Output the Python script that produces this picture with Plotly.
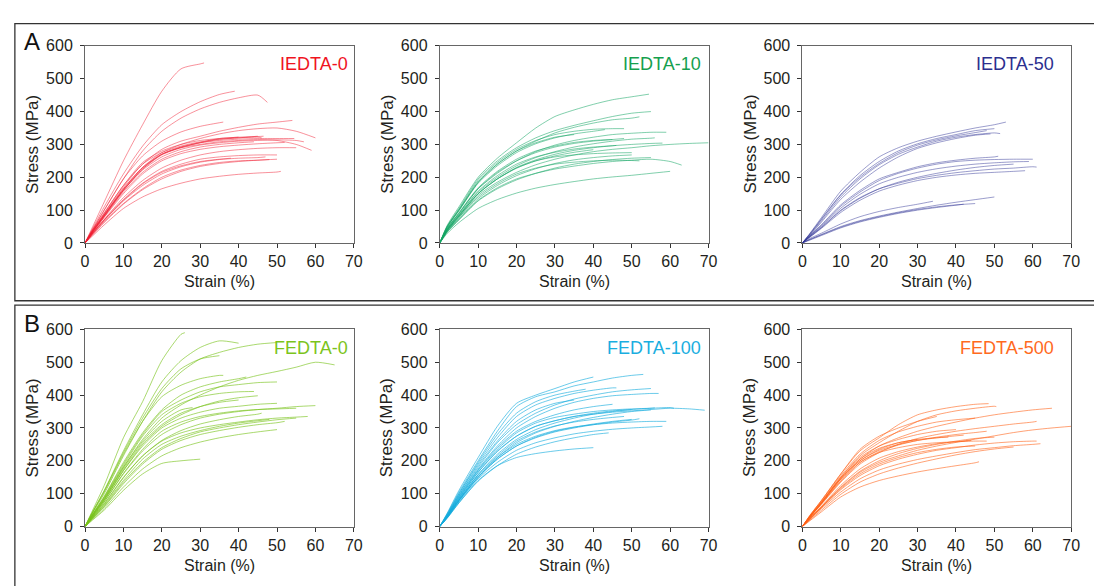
import plotly.graph_objects as go

# ---------------- data ----------------
STRAIN_GRID = [0, 2, 5, 10, 15, 20, 25, 30, 35, 40, 45, 50, 55, 60, 65, 70]
X_TICKS = [0, 10, 20, 30, 40, 50, 60, 70]
Y_TICKS = [0, 100, 200, 300, 400, 500, 600]
PANEL_NAMES = ["IEDTA-0", "IEDTA-10", "IEDTA-50", "FEDTA-0", "FEDTA-100", "FEDTA-500"]

# each curve: stress (MPa) at STRAIN_GRID points below its end strain, then stress at end strain
IEDTA_0_END = [31, 39, 47.5, 36, 54, 60, 59, 57, 54.5, 46.5, 46, 55, 50, 47, 51, 48, 45, 40, 52, 44, 38, 50]
IEDTA_0_STRESS = [
    [0, 50, 125, 250, 360, 462, 530, 545, 548],
    [0, 45, 110, 210, 295, 360, 400, 430, 452, 462],
    [0, 40, 100, 195, 280, 340, 380, 408, 428, 442, 450, 428],
    [0, 42, 100, 195, 265, 310, 338, 355, 366, 368],
    [0, 38, 90, 175, 240, 285, 310, 325, 340, 352, 362, 368, 373],
    [0, 35, 85, 165, 230, 275, 300, 318, 332, 342, 348, 350, 340, 320],
    [0, 33, 80, 160, 225, 270, 290, 300, 308, 312, 315, 312, 300, 282],
    [0, 35, 82, 160, 222, 262, 285, 298, 305, 310, 312, 314, 312, 308],
    [0, 36, 84, 165, 230, 270, 292, 305, 312, 316, 318, 318, 318],
    [0, 40, 92, 175, 245, 280, 300, 312, 318, 322, 324, 325],
    [0, 38, 88, 170, 240, 275, 295, 308, 316, 320, 322, 320],
    [0, 30, 72, 138, 190, 228, 252, 268, 278, 284, 288, 290, 290],
    [0, 30, 70, 132, 182, 218, 240, 255, 262, 266, 268, 268],
    [0, 28, 68, 128, 175, 210, 232, 246, 254, 258, 260, 262],
    [0, 22, 55, 105, 140, 165, 182, 195, 203, 209, 213, 216, 218],
    [0, 27, 65, 120, 165, 200, 222, 236, 245, 250, 252, 254],
    [0, 35, 85, 160, 225, 268, 290, 305, 315, 320, 325],
    [0, 36, 85, 162, 228, 270, 292, 306, 318, 322],
    [0, 32, 78, 150, 210, 250, 272, 285, 293, 298, 302, 305, 306],
    [0, 33, 80, 155, 215, 255, 278, 292, 300, 305, 308],
    [0, 30, 70, 130, 180, 215, 235, 248, 255, 258],
    [0, 25, 62, 118, 162, 195, 218, 233, 242, 248, 252, 255],
]

IEDTA_10_END = [54.5, 55, 52, 48, 59, 56, 70, 63, 60, 52, 50, 46, 45, 40, 50, 55, 48, 43, 35, 58]
IEDTA_10_STRESS = [
    [0, 55, 110, 200, 258, 305, 350, 385, 405, 422, 436, 445, 453],
    [0, 52, 105, 195, 250, 290, 320, 342, 358, 372, 385, 395, 400],
    [0, 50, 100, 185, 240, 280, 310, 335, 352, 365, 375, 380, 384],
    [0, 52, 102, 190, 245, 285, 312, 330, 340, 346, 348, 348],
    [0, 45, 90, 165, 212, 250, 278, 298, 312, 322, 330, 334, 337, 337],
    [0, 42, 85, 155, 200, 235, 260, 278, 292, 302, 310, 316, 319, 320],
    [0, 38, 78, 145, 185, 215, 238, 255, 268, 278, 285, 290, 296, 300, 303, 305],
    [0, 35, 72, 130, 168, 195, 212, 225, 234, 242, 248, 252, 255, 248, 237],
    [0, 30, 62, 105, 132, 152, 167, 178, 187, 195, 201, 206, 212, 218],
    [0, 38, 78, 140, 180, 210, 228, 240, 246, 250, 252, 251, 250],
    [0, 40, 82, 150, 195, 228, 250, 262, 268, 272, 274, 275],
    [0, 42, 86, 158, 205, 240, 262, 276, 286, 292, 296, 297],
    [0, 45, 92, 168, 218, 255, 280, 295, 306, 312, 315],
    [0, 40, 82, 150, 195, 228, 250, 265, 276, 284],
    [0, 36, 74, 135, 175, 205, 226, 242, 253, 260, 265, 268],
    [0, 34, 70, 128, 165, 192, 212, 228, 240, 248, 254, 258, 260],
    [0, 44, 90, 165, 215, 250, 275, 292, 303, 310, 315, 318],
    [0, 48, 98, 182, 235, 275, 302, 320, 332, 340, 345],
    [0, 50, 100, 185, 240, 280, 305, 322, 330],
    [0, 40, 82, 150, 195, 230, 253, 270, 282, 290, 296, 300, 303, 304],
]

IEDTA_50_END = [53, 50, 51.5, 48, 49, 60, 61, 51, 59, 58, 55, 50, 34, 45, 42]
IEDTA_50_STRESS = [
    [0, 30, 78, 158, 215, 262, 290, 310, 325, 338, 350, 360, 368],
    [0, 28, 74, 148, 205, 248, 280, 302, 318, 330, 342, 348],
    [0, 26, 68, 140, 195, 238, 270, 292, 310, 322, 330, 335, 333],
    [0, 28, 72, 146, 200, 242, 275, 298, 314, 326, 336, 342],
    [0, 24, 64, 133, 185, 228, 262, 288, 305, 318, 328, 332],
    [0, 22, 54, 112, 155, 190, 212, 228, 240, 248, 252, 254, 255, 255],
    [0, 20, 48, 100, 138, 165, 182, 196, 206, 214, 220, 225, 228, 232, 231],
    [0, 23, 56, 116, 160, 195, 215, 232, 244, 252, 258, 262, 264],
    [0, 21, 51, 106, 148, 180, 200, 215, 226, 234, 240, 244, 247, 248],
    [0, 18, 45, 93, 130, 158, 176, 190, 200, 207, 212, 215, 218, 220],
    [0, 19, 47, 98, 136, 165, 185, 200, 212, 222, 230, 236, 240],
    [0, 11, 26, 50, 68, 82, 94, 105, 115, 124, 132, 140],
    [0, 14, 30, 58, 80, 96, 108, 118, 127],
    [0, 11, 25, 48, 66, 80, 92, 102, 110, 116, 120],
    [0, 9, 23, 46, 64, 78, 90, 100, 108, 115, 118],
]

FEDTA_0_END = [26, 40, 50, 65, 50, 44, 36, 60, 58, 50, 55, 50, 30, 45, 40, 48, 52, 42, 46, 35, 28, 55]
FEDTA_0_STRESS = [
    [0, 50, 125, 270, 380, 505, 585, 590],
    [0, 45, 110, 230, 340, 440, 505, 545, 565, 558],
    [0, 42, 100, 215, 320, 410, 470, 510, 530, 545, 555, 560],
    [0, 35, 85, 180, 265, 330, 370, 400, 425, 445, 460, 472, 485, 500, 492],
    [0, 38, 90, 190, 280, 350, 385, 410, 425, 432, 438, 440],
    [0, 36, 88, 185, 275, 340, 375, 395, 405, 410, 411],
    [0, 44, 105, 220, 320, 395, 430, 450, 460, 460],
    [0, 30, 75, 160, 230, 280, 310, 330, 342, 350, 356, 360, 365, 368],
    [0, 28, 70, 150, 215, 260, 285, 300, 310, 318, 325, 330, 333, 335],
    [0, 32, 80, 170, 245, 300, 330, 348, 360, 366, 372, 375],
    [0, 30, 75, 162, 235, 290, 318, 335, 345, 352, 356, 358, 360],
    [0, 22, 55, 120, 175, 215, 240, 257, 270, 280, 288, 295],
    [0, 20, 50, 110, 160, 192, 200, 205],
    [0, 32, 80, 170, 250, 305, 340, 365, 382, 392, 398],
    [0, 34, 82, 175, 255, 310, 345, 365, 378, 385],
    [0, 26, 65, 140, 205, 250, 275, 292, 305, 315, 322, 326],
    [0, 25, 60, 130, 190, 235, 262, 280, 292, 302, 310, 316, 320],
    [0, 38, 92, 195, 285, 355, 400, 425, 440, 450, 455],
    [0, 28, 68, 148, 215, 262, 292, 312, 325, 335, 342, 345],
    [0, 44, 108, 225, 330, 420, 480, 510, 520],
    [0, 35, 85, 180, 260, 320, 355, 362],
    [0, 26, 62, 135, 195, 240, 268, 288, 300, 310, 318, 325, 330],
]

FEDTA_100_END = [53, 40, 46, 55, 57, 69, 61, 59, 58, 40, 50, 45, 52, 48, 35, 55, 44, 50, 38, 56]
FEDTA_100_STRESS = [
    [0, 40, 105, 200, 290, 365, 395, 410, 428, 440, 452, 460, 463],
    [0, 42, 110, 210, 305, 375, 400, 420, 440, 455],
    [0, 38, 100, 190, 270, 335, 370, 390, 405, 415, 422, 422],
    [0, 35, 95, 180, 255, 310, 345, 370, 388, 400, 410, 416, 420],
    [0, 34, 92, 175, 245, 300, 335, 360, 378, 390, 398, 402, 405, 405],
    [0, 32, 85, 165, 230, 275, 305, 322, 335, 342, 348, 352, 356, 360, 358, 354],
    [0, 33, 88, 170, 235, 285, 315, 332, 342, 350, 355, 358, 360, 362, 360],
    [0, 30, 80, 155, 210, 250, 275, 292, 303, 310, 315, 318, 320, 320],
    [0, 28, 75, 145, 195, 232, 255, 270, 282, 290, 296, 300, 303, 305],
    [0, 26, 72, 140, 185, 210, 222, 230, 236, 240],
    [0, 32, 86, 165, 228, 275, 305, 322, 335, 345, 352, 356],
    [0, 34, 90, 172, 240, 290, 320, 340, 355, 365, 372],
    [0, 28, 78, 150, 205, 245, 270, 288, 300, 310, 318, 324, 328],
    [0, 30, 82, 158, 215, 260, 288, 306, 318, 326, 332, 335],
    [0, 36, 95, 185, 260, 320, 355, 375, 385],
    [0, 30, 80, 150, 210, 255, 285, 305, 320, 332, 342, 350, 355],
    [0, 27, 72, 138, 185, 220, 242, 258, 270, 280, 285],
    [0, 29, 78, 150, 205, 245, 272, 290, 302, 312, 320, 326],
    [0, 38, 100, 195, 280, 345, 380, 400, 412, 418],
    [0, 31, 82, 158, 220, 265, 295, 315, 330, 342, 350, 356, 360, 361],
]

FEDTA_500_END = [48.5, 50.5, 65, 61, 70, 48, 62, 61, 46, 45, 40, 42, 48, 35, 44, 50, 38, 55, 45, 30]
FEDTA_500_STRESS = [
    [0, 35, 80, 160, 230, 270, 310, 340, 355, 365, 372, 374],
    [0, 32, 75, 150, 215, 255, 290, 320, 340, 352, 360, 366, 365],
    [0, 30, 72, 145, 205, 245, 270, 290, 305, 318, 330, 340, 348, 355, 360],
    [0, 28, 68, 135, 190, 225, 250, 268, 280, 290, 298, 305, 312, 318, 320],
    [0, 25, 60, 118, 165, 195, 215, 232, 245, 256, 266, 276, 286, 294, 300, 305],
    [0, 30, 70, 138, 195, 225, 240, 250, 255, 258, 260, 260],
    [0, 22, 55, 105, 145, 172, 190, 204, 215, 225, 234, 240, 246, 250, 252],
    [0, 24, 58, 112, 155, 185, 205, 220, 232, 240, 248, 254, 258, 260, 260],
    [0, 18, 45, 90, 120, 140, 154, 166, 176, 185, 194, 197],
    [0, 33, 78, 155, 220, 262, 288, 305, 318, 325, 330],
    [0, 32, 75, 150, 210, 245, 265, 280, 290, 295],
    [0, 30, 72, 145, 200, 232, 250, 262, 270, 276, 278],
    [0, 29, 70, 140, 195, 228, 248, 262, 272, 280, 286, 290],
    [0, 34, 80, 160, 235, 275, 300, 320, 335],
    [0, 26, 62, 125, 175, 208, 228, 242, 252, 258, 262],
    [0, 25, 60, 120, 168, 200, 222, 238, 250, 260, 268, 272],
    [0, 31, 74, 148, 205, 238, 255, 265, 270, 272],
    [0, 20, 50, 98, 135, 160, 178, 193, 206, 218, 228, 236, 242],
    [0, 24, 58, 115, 160, 190, 210, 225, 235, 242, 245],
    [0, 30, 72, 145, 200, 235, 255, 265],
]

PANEL_ENDS = [IEDTA_0_END, IEDTA_10_END, IEDTA_50_END, FEDTA_0_END, FEDTA_100_END, FEDTA_500_END]
PANEL_STRESS = [IEDTA_0_STRESS, IEDTA_10_STRESS, IEDTA_50_STRESS, FEDTA_0_STRESS, FEDTA_100_STRESS, FEDTA_500_STRESS]

# ---------------- styling ----------------
LABEL_COLORS = ["#f0141e", "#15a04e", "#2b2f8f", "#7cc41c", "#1aaee0", "#ff6a1e"]
LINE_COLORS = ["rgba(240,30,50,0.55)", "rgba(20,165,100,0.6)", "rgba(50,55,150,0.55)",
               "rgba(120,195,25,0.7)", "rgba(20,172,222,0.7)", "rgba(255,95,20,0.65)"]
FONT = "Liberation Sans, Arial, sans-serif"
W, H = 1094, 586

# pixel geometry of plot areas
X_PIX = [(82, 354), (441, 713), (808, 1080)]
Y_PIX = [(39, 242), (331, 534)]


def px(x):
    return x / W


def py(y):
    return 1 - y / H


fig = go.Figure()
annotations = []
layout_axes = {}

for i in range(6):
    col, row = i % 3, i // 3
    n = i + 1
    xa = "x" if n == 1 else f"x{n}"
    ya = "y" if n == 1 else f"y{n}"
    for end, ys in zip(PANEL_ENDS[i], PANEL_STRESS[i]):
        xs = [g for g in STRAIN_GRID if g < end] + [end]
        m = min(len(xs), len(ys))
        fig.add_trace(go.Scatter(
            x=xs[:m], y=ys[:m], mode="lines", xaxis=xa, yaxis=ya,
            line=dict(color=LINE_COLORS[i], width=0.9, shape="spline", smoothing=0.7),
            showlegend=False, hoverinfo="skip"))

    x0, x1 = X_PIX[col]
    y0, y1 = Y_PIX[row]
    axcommon = dict(showgrid=False, zeroline=False, showline=True, linecolor="#666",
                    linewidth=1, mirror=True, ticks="outside", ticklen=4, tickwidth=1,
                    tickcolor="#333", tickfont=dict(family=FONT, size=16, color="#231f20"))
    layout_axes["xaxis" if n == 1 else f"xaxis{n}"] = dict(
        domain=[px(x0), px(x1)], anchor=ya, range=[0, 70],
        tickvals=X_TICKS, ticktext=[str(v) for v in X_TICKS], **axcommon)
    layout_axes["yaxis" if n == 1 else f"yaxis{n}"] = dict(
        domain=[py(y1), py(y0)], anchor=xa, range=[0, 600], ticklabelstandoff=4,
        tickvals=Y_TICKS, ticktext=[str(v) for v in Y_TICKS], **axcommon)

    # axis titles
    annotations.append(dict(text="Strain (%)", x=px((x0 + x1) / 2), y=py(y1 + 40),
                            xref="paper", yref="paper", showarrow=False,
                            xanchor="center", yanchor="middle",
                            font=dict(family=FONT, size=16, color="#231f20")))
    annotations.append(dict(text="Stress (MPa)", x=px(x0 - 53), y=py((y0 + y1) / 2),
                            xref="paper", yref="paper", showarrow=False, textangle=-90,
                            xanchor="center", yanchor="middle",
                            font=dict(family=FONT, size=17, color="#231f20")))
    # panel label
    right_gap = [4, 6, 15][col]
    annotations.append(dict(text=PANEL_NAMES[i], x=px(x1 - right_gap), y=py(y0 + 19),
                            xref="paper", yref="paper", showarrow=False,
                            xanchor="right", yanchor="middle",
                            font=dict(family=FONT, size=18, color=LABEL_COLORS[i])))

# panel letters
annotations.append(dict(text="A", x=px(28.5), y=py(34), xref="paper", yref="paper",
                        showarrow=False, xanchor="center", yanchor="middle",
                        font=dict(family=FONT, size=24, color="#111")))
annotations.append(dict(text="B", x=px(28), y=py(325), xref="paper", yref="paper",
                        showarrow=False, xanchor="center", yanchor="middle",
                        font=dict(family=FONT, size=24, color="#111")))

shapes = [
    dict(type="rect", xref="paper", yref="paper", x0=px(11), x1=px(1110), y0=py(301.5), y1=py(16),
         line=dict(color="#333", width=1.3)),
    dict(type="rect", xref="paper", yref="paper", x0=px(11), x1=px(1110), y0=py(620), y1=py(306),
         line=dict(color="#333", width=1.3)),
]

fig.update_layout(width=W, height=H, margin=dict(l=0, r=0, t=0, b=0),
                  paper_bgcolor="white", plot_bgcolor="white",
                  annotations=annotations, shapes=shapes, **layout_axes)

fig.write_html("out.html")
